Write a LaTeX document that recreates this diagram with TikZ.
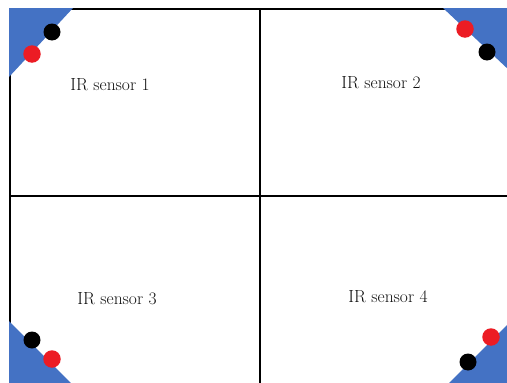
\documentclass[tikz,border=0pt]{standalone}
\usepackage{fontspec}
\definecolor{cornerblue}{HTML}{4472C4}
\definecolor{dotred}{HTML}{EC1C24}
\definecolor{txt}{HTML}{111111}
\begin{document}
\begin{tikzpicture}[x=1pt,y=-1pt,
  frameline/.style={draw=black,line width=2pt},
  corner/.style={fill=cornerblue},
  reddot/.style={circle,fill=dotred,inner sep=0pt,minimum size=17.5pt},
  blackdot/.style={circle,fill=black,inner sep=0pt,minimum size=17pt},
  sensortext/.style={font=\fontsize{17.5}{20}\selectfont,text=txt,inner sep=0pt}]
\useasboundingbox (0,0) rectangle (507,383);
\clip (0,0) rectangle (507,383);
\fill[white] (0,0) rectangle (507,383);
% frame and dividing lines
\draw[frameline] (10,9) rectangle (508,390);
\draw[frameline] (260,9) -- (260,390);
\draw[frameline] (10,196) -- (508,196);
% blue corners
\fill[corner] (9,8) -- (73,8) -- (9,77) -- cycle;
\fill[corner] (443,8) -- (510,8) -- (510,71) -- cycle;
\fill[corner] (9,321) -- (73,385) -- (9,385) -- cycle;
\fill[corner] (447,385) -- (510,322) -- (510,385) -- cycle;
% dots
\node[blackdot] (tlb) at (52,32) {};
\node[reddot]   (tlr) at (32,54) {};
\node[reddot]   (trr) at (465,29) {};
\node[blackdot] (trb) at (487,52) {};
\node[blackdot] (blb) at (32,340) {};
\node[reddot]   (blr) at (52,359) {};
\node[reddot]   (brr) at (491,337) {};
\node[blackdot] (brb) at (468,362) {};
% labels
\node[sensortext] (s1) at (110,85) {IR sensor 1};
\node[sensortext] (s2) at (381,83) {IR sensor 2};
\node[sensortext] (s3) at (117,299) {IR sensor 3};
\node[sensortext] (s4) at (388,297) {IR sensor 4};
\end{tikzpicture}
\end{document}
